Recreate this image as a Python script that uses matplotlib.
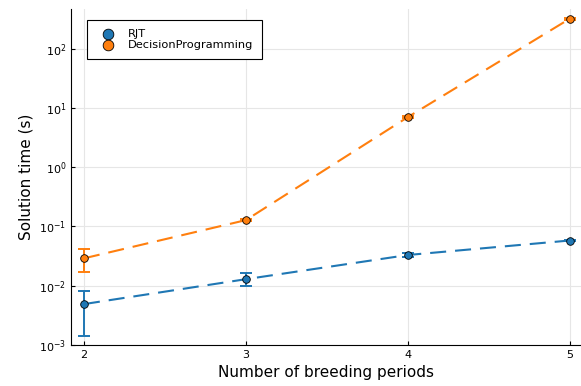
import matplotlib.pyplot as plt
import numpy as np

periods = [2, 3, 4, 5]

rjt_time = [0.0049, 0.0129, 0.033, 0.058]
rjt_low = [0.0014, 0.0099, 0.031, 0.056]
rjt_high = [0.0082, 0.0165, 0.035, 0.060]

dp_time = [0.029, 0.128, 7.0, 320.0]
dp_low = [0.017, 0.122, 6.8, 310.0]
dp_high = [0.041, 0.134, 7.2, 330.0]

blue = '#1f77b4'
orange = '#ff7f0e'

fig = plt.figure(figsize=(5.81, 3.86), dpi=100)
ax = fig.add_axes([71 / 581, 1 - 345 / 386, 510 / 581, 336 / 386])

for t, lo, hi, cor, nome in [(rjt_time, rjt_low, rjt_high, blue, 'RJT'),
                             (dp_time, dp_low, dp_high, orange, 'DecisionProgramming')]:
    t = np.array(t)
    yerr = [t - np.array(lo), np.array(hi) - t]
    ax.errorbar(periods, t, yerr=yerr, fmt='none', ecolor=cor, elinewidth=1.4,
                capsize=4, capthick=1.4, zorder=2)
    ax.plot(periods, t, color=cor, linestyle=(0, (7.7, 4.3)), linewidth=1.5, zorder=3)
    ax.scatter(periods, t, color=cor, edgecolor='black', linewidth=0.6, s=30,
               zorder=4, label=nome)

ax.set_yscale('log')
ax.set_ylim(1e-3, 10 ** 2.67)
ax.set_xlim(1.92, 5.07)
ax.set_xticks(periods)
ax.set_yticks([1e-3, 1e-2, 1e-1, 1e0, 1e1, 1e2])
ax.yaxis.set_minor_locator(plt.NullLocator())
ax.grid(True, color='#e6e6e6', linewidth=0.8)
ax.set_axisbelow(True)
for s in ['top', 'right']:
    ax.spines[s].set_visible(False)
ax.tick_params(labelsize=8, direction='in', length=3)
ax.set_xlabel('Number of breeding periods', fontsize=11)
ax.set_ylabel('Solution time (s)', fontsize=11)

leg = ax.legend(loc='upper left', bbox_to_anchor=(16 / 510, 1 - 11 / 336), fontsize=8.2,
                fancybox=False, edgecolor='black', framealpha=1, borderpad=0.8,
                borderaxespad=0, handletextpad=0.8, labelspacing=0.05,
                markerscale=1.4, handlelength=2.0)
leg.get_frame().set_linewidth(0.8)

plt.savefig('out.png', dpi=100)
